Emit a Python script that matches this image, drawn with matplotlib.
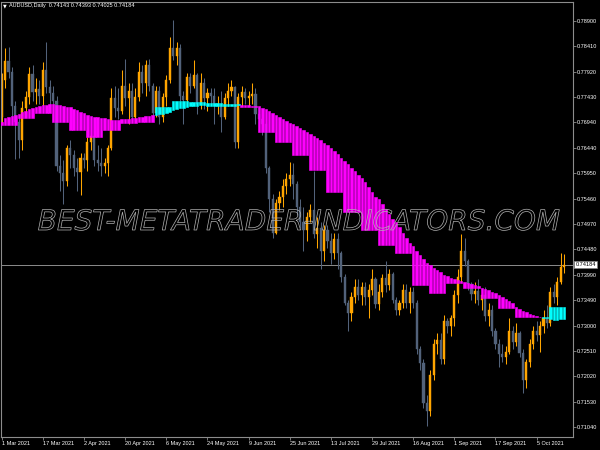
import numpy as np
import matplotlib.pyplot as plt
import matplotlib.patheffects as pe

# AUDUSD daily candles, 1 Mar 2021 .. 15 Oct 2021 (one per weekday)
first_open = 0.7705
closes = [
    0.7776, 0.7812, 0.7792, 0.7725, 0.7695, 0.7660, 0.7722, 0.7742, 0.7788, 0.7752,
    0.7758, 0.7745, 0.7795, 0.7762, 0.7750, 0.7735, 0.7610, 0.7595, 0.7580, 0.7645,
    0.7630, 0.7605, 0.7598, 0.7625, 0.7620, 0.7655, 0.7668, 0.7620, 0.7615, 0.7610,
    0.7615, 0.7645, 0.7740, 0.7722, 0.7715, 0.7765, 0.7740, 0.7755, 0.7705, 0.7742,
    0.7792, 0.7770, 0.7805, 0.7765, 0.7712, 0.7755, 0.7705, 0.7742, 0.7775, 0.7838,
    0.7822, 0.7838, 0.7745, 0.7738, 0.7782, 0.7765, 0.7785, 0.7730, 0.7770, 0.7740,
    0.7750, 0.7745, 0.7725, 0.7730, 0.7705, 0.7740, 0.7755, 0.7762, 0.7655, 0.7742,
    0.7752, 0.7740, 0.7745, 0.7748, 0.7710, 0.7700, 0.7690, 0.7605, 0.7545, 0.7480,
    0.7538, 0.7550, 0.7570, 0.7585, 0.7592, 0.7575, 0.7530, 0.7500, 0.7485, 0.7510,
    0.7525, 0.7478, 0.7490, 0.7445, 0.7485, 0.7465, 0.7440, 0.7468, 0.7440, 0.7395,
    0.7345, 0.7325, 0.7355, 0.7375, 0.7360, 0.7375, 0.7355, 0.7370, 0.7390, 0.7342,
    0.7365, 0.7392, 0.7378, 0.7400, 0.7350, 0.7330, 0.7345, 0.7370, 0.7345, 0.7365,
    0.7345, 0.7255, 0.7228, 0.7150, 0.7135, 0.7205, 0.7265, 0.7272, 0.7235, 0.7310,
    0.7300, 0.7315, 0.7360, 0.7395, 0.7445, 0.7425, 0.7380, 0.7362, 0.7368, 0.7350,
    0.7360, 0.7318, 0.7330, 0.7290, 0.7265, 0.7245, 0.7240, 0.7250, 0.7290, 0.7268,
    0.7285, 0.7248, 0.7195, 0.7230, 0.7265, 0.7290, 0.7282, 0.7300, 0.7315, 0.7305,
    0.7365, 0.7355, 0.7385, 0.74143, 0.74184,
]
highs = [
    0.7790, 0.7838, 0.7840, 0.7800, 0.7735, 0.7705, 0.7735, 0.7755, 0.7800, 0.7805,
    0.7780, 0.7775, 0.7810, 0.7849, 0.7775, 0.7765, 0.7745, 0.7630, 0.7620, 0.7650,
    0.7660, 0.7640, 0.7625, 0.7635, 0.7635, 0.7665, 0.7680, 0.7675, 0.7650, 0.7645,
    0.7625, 0.7650, 0.7760, 0.7765, 0.7760, 0.7795, 0.7816, 0.7770, 0.7770, 0.7760,
    0.7810, 0.7805, 0.7815, 0.7817, 0.7770, 0.7765, 0.7765, 0.7750, 0.7785, 0.7860,
    0.7891, 0.7850, 0.7845, 0.7755, 0.7790, 0.7790, 0.7815, 0.7790, 0.7790, 0.7780,
    0.7760, 0.7760, 0.7760, 0.7745, 0.7755, 0.7750, 0.7770, 0.7775, 0.7765, 0.7750,
    0.7765, 0.7760, 0.7755, 0.7770, 0.7760, 0.7720, 0.7715, 0.7700, 0.7610, 0.7555,
    0.7545, 0.7560, 0.7585, 0.7595, 0.7617, 0.7615, 0.7580, 0.7545, 0.7530, 0.7520,
    0.7535, 0.7599, 0.7510, 0.7500, 0.7495, 0.7495, 0.7480, 0.7480, 0.7480, 0.7445,
    0.7400, 0.7350, 0.7365, 0.7390, 0.7390, 0.7385, 0.7385, 0.7380, 0.7410, 0.7395,
    0.7380, 0.7400, 0.7425, 0.7410, 0.7405, 0.7355, 0.7350, 0.7380, 0.7380, 0.7375,
    0.7375, 0.7350, 0.7260, 0.7235, 0.7165, 0.7215, 0.7275, 0.7285, 0.7285, 0.7320,
    0.7315, 0.7320, 0.7370, 0.7410, 0.7478, 0.7470, 0.7430, 0.7385, 0.7385, 0.7390,
    0.7370, 0.7375, 0.7345, 0.7340, 0.7295, 0.7275, 0.7265, 0.7260, 0.7315, 0.7300,
    0.7305, 0.7290, 0.7255, 0.7235, 0.7275, 0.7300, 0.7310, 0.7310, 0.7330, 0.7340,
    0.7375, 0.7380, 0.7395, 0.7441, 0.74393,
]
lows = [
    0.7690, 0.7760, 0.7780, 0.7705, 0.7622, 0.7625, 0.7640, 0.7705, 0.7730, 0.7735,
    0.7730, 0.7730, 0.7720, 0.7750, 0.7720, 0.7715, 0.7600, 0.7560, 0.7535, 0.7570,
    0.7605, 0.7590, 0.7560, 0.7553, 0.7605, 0.7600, 0.7640, 0.7610, 0.7600, 0.7590,
    0.7595, 0.7590, 0.7640, 0.7705, 0.7700, 0.7710, 0.7725, 0.7690, 0.7695, 0.7695,
    0.7735, 0.7750, 0.7745, 0.7755, 0.7700, 0.7705, 0.7690, 0.7695, 0.7725, 0.7770,
    0.7815, 0.7805, 0.7735, 0.7690, 0.7730, 0.7750, 0.7760, 0.7710, 0.7720, 0.7720,
    0.7715, 0.7730, 0.7690, 0.7710, 0.7675, 0.7700, 0.7725, 0.7745, 0.7645, 0.7645,
    0.7725, 0.7730, 0.7725, 0.7730, 0.7690, 0.7680, 0.7670, 0.7595, 0.7520, 0.7470,
    0.7478, 0.7525, 0.7530, 0.7555, 0.7570, 0.7545, 0.7515, 0.7490, 0.7445, 0.7465,
    0.7500, 0.7470, 0.7450, 0.7410, 0.7425, 0.7450, 0.7420, 0.7430, 0.7410, 0.7385,
    0.7340, 0.7289, 0.7310, 0.7345, 0.7350, 0.7340, 0.7340, 0.7315, 0.7360, 0.7335,
    0.7330, 0.7355, 0.7365, 0.7370, 0.7345, 0.7320, 0.7320, 0.7335, 0.7335, 0.7325,
    0.7335, 0.7245, 0.7215, 0.7140, 0.7106, 0.7125, 0.7195, 0.7245, 0.7225, 0.7225,
    0.7285, 0.7280, 0.7300, 0.7345, 0.7385, 0.7415, 0.7370, 0.7350, 0.7345, 0.7340,
    0.7330, 0.7310, 0.7300, 0.7280, 0.7255, 0.7220, 0.7230, 0.7225, 0.7245, 0.7255,
    0.7260, 0.7240, 0.7170, 0.7180, 0.7220, 0.7255, 0.7270, 0.7250, 0.7285, 0.7295,
    0.7300, 0.7345, 0.7340, 0.7380, 0.74025,
]
opens = [first_open] + closes[:-1]

# indicator: smooth line per bar, stepped line per block of 5 bars
smooth_line = [
    0.76945, 0.77022, 0.77041, 0.77061, 0.77080, 0.77099, 0.77138, 0.77157, 0.77196, 0.77216,
    0.77235, 0.77254, 0.77274, 0.77283, 0.77293, 0.77293, 0.77283, 0.77274, 0.77254, 0.77235,
    0.77235, 0.77196, 0.77177, 0.77138, 0.77119, 0.77080, 0.77061, 0.77041, 0.77032, 0.77022,
    0.77022, 0.77003, 0.76993, 0.76983, 0.76983, 0.77003, 0.77003, 0.77012, 0.77022, 0.77022,
    0.77041, 0.77051, 0.77061, 0.77070, 0.77080, 0.77080, 0.77099, 0.77109, 0.77119, 0.77138,
    0.77177, 0.77196, 0.77216, 0.77225, 0.77235, 0.77245, 0.77254, 0.77264, 0.77274, 0.77274,
    0.77264, 0.77264, 0.77254, 0.77254, 0.77254, 0.77254, 0.77254, 0.77264, 0.77264, 0.77274,
    0.77274, 0.77274, 0.77274, 0.77264, 0.77254, 0.77254, 0.77225, 0.77196, 0.77158, 0.77119,
    0.77080, 0.77041, 0.77003, 0.76964, 0.76925, 0.76906, 0.76867, 0.76829, 0.76790, 0.76751,
    0.76713, 0.76674, 0.76635, 0.76587, 0.76538, 0.76499, 0.76442, 0.76383, 0.76316, 0.76248,
    0.76190, 0.76132, 0.76054, 0.75987, 0.75919, 0.75860, 0.75783, 0.75686, 0.75589, 0.75493,
    0.75454, 0.75357, 0.75260, 0.75163, 0.75067, 0.75009, 0.74912, 0.74796, 0.74699, 0.74602,
    0.74544, 0.74447, 0.74370, 0.74292, 0.74215, 0.74176, 0.74118, 0.74079, 0.74031, 0.73982,
    0.73963, 0.73934, 0.73905, 0.73886, 0.73867, 0.73838, 0.73818, 0.73799, 0.73780, 0.73760,
    0.73731, 0.73712, 0.73683, 0.73654, 0.73634, 0.73596, 0.73557, 0.73518, 0.73480, 0.73441,
    0.73363, 0.73324, 0.73285, 0.73266, 0.73237, 0.73208, 0.73189, 0.73170, 0.73150, 0.73141,
    0.73121, 0.73111, 0.73111, 0.73121, 0.73131,
]
step_levels = [
    0.76887, 0.77022, 0.77119, 0.76945, 0.76790, 0.76654, 0.76790, 0.76925, 0.76945, 0.77235,
    0.77351, 0.77332, 0.77303, 0.77293, 0.77235, 0.76751, 0.76557, 0.76306, 0.76015, 0.75589,
    0.75202, 0.74854, 0.74563, 0.74408, 0.73789, 0.73634, 0.73828, 0.73731, 0.73537, 0.73344,
    0.73170, 0.73164, 0.73363,
]

date_ticks = [0, 12, 24, 36, 48, 60, 72, 84, 96, 108, 120, 132, 144, 156]
date_labels = ["1 Mar 2021", "17 Mar 2021", "2 Apr 2021", "20 Apr 2021", "6 May 2021",
               "24 May 2021", "9 Jun 2021", "25 Jun 2021", "13 Jul 2021", "29 Jul 2021",
               "16 Aug 2021", "1 Sep 2021", "17 Sep 2021", "5 Oct 2021"]
price_ticks = [0.78900, 0.78410, 0.77920, 0.77430, 0.76940, 0.76440, 0.75950, 0.75460,
               0.74970, 0.74480, 0.73990, 0.73490, 0.73000, 0.72510, 0.72020, 0.71530, 0.71040]
last_price = 0.74184
title = "AUDUSD,Daily  0.74143 0.74393 0.74025 0.74184"
watermark = "BEST-METATRADER-INDICATORS.COM"

#=============================#

bull_col = '#FFA500'
bear_col = '#52627A'
frame_col = '#8C8C8C'
small_font = ['Liberation Sans', 'DejaVu Sans']

o = np.array(opens)
c = np.array(closes)
h = np.array(highs)
l = np.array(lows)
x = np.arange(len(c))
cols = np.where(c >= o, bull_col, bear_col)

fig = plt.figure(figsize=(6, 4.5), dpi=100, facecolor='black')
ax = fig.add_axes([1/600, 13/450, 572/600, 435/450])
ax.set_facecolor('black')

# candles
ax.vlines(x, l, h, colors=cols, linewidth=0.75, zorder=2)
ax.bar(x, np.abs(c - o), bottom=np.minimum(c, o), width=0.62,
       color=cols, edgecolor=cols, linewidth=0.3, zorder=2)

# indicator histogram between the two lines
sm = np.array(smooth_line)
st = np.repeat(step_levels, 5)[:len(sm)]
icol = np.where(st > sm, '#00FFFF', '#FF00FF')
ax.bar(x, np.abs(st - sm), bottom=np.minimum(st, sm), width=0.72,
       color=icol, edgecolor=icol, linewidth=0.4, zorder=3)

# current price line + box
ax.axhline(last_price, color=frame_col, linewidth=0.7, zorder=1)
ax.text(1.004, last_price, "0.74184", transform=ax.get_yaxis_transform(),
        ha='left', va='center', fontsize=4, family=small_font, color='black',
        bbox=dict(boxstyle='square,pad=0.25', fc='white', ec='#808080', lw=0.5),
        clip_on=False, zorder=5)

ax.set_xlim(-0.2, 166.6)
ax.set_ylim(0.70846, 0.79268)

for s in ax.spines.values():
    s.set_color(frame_col)
    s.set_linewidth(0.8)

ax.yaxis.tick_right()
ax.set_yticks(price_ticks, ["%.5f" % p for p in price_ticks])
ax.set_xticks(date_ticks, date_labels)
for lab in ax.get_xticklabels():
    lab.set_ha('left')
ax.tick_params(axis='both', colors=frame_col, labelcolor='white', labelsize=4,
               length=2, width=0.6, pad=1)
for lab in ax.get_xticklabels() + ax.get_yticklabels():
    lab.set_family(small_font)

# title
fig.text(3/600, 1 - 6/450, "\u25bc", fontsize=3.5, color='white', va='center',
         family='DejaVu Sans')
fig.text(9/600, 1 - 6/450, title, fontsize=4, color='white', va='center',
         family=small_font)

# watermark, outlined italic text scaled to its width in the picture
wm = fig.text(299/600, 1 - 222/450, watermark, fontsize=20, style='italic',
              ha='center', va='center', color='none', family='DejaVu Sans',
              path_effects=[pe.Stroke(linewidth=0.5, foreground='#B4B4B4')], zorder=10)
fig.canvas.draw()
w = wm.get_window_extent().width
wm.set_fontsize(20 * 522 / w)

plt.savefig('out.png', dpi=100, facecolor='black')
